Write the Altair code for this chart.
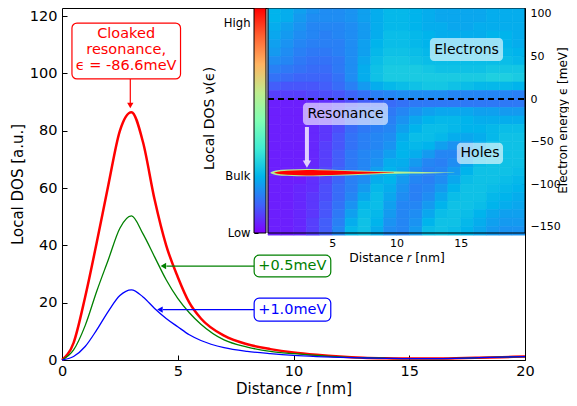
import altair as alt
import pandas as pd

FONT = "DejaVu Sans"

# ---------------- main panel data ----------------
r_vals = [0, 0.5, 1, 1.5, 2, 2.5, 3, 3.5, 4, 4.5, 5, 5.5, 6, 7, 8, 9, 10,
          11, 12, 13, 14, 15, 16, 17, 18, 19, 20]
dos_red = [0, 6, 22, 41, 61, 80, 86.5, 76, 56, 40, 29, 20, 14.5, 8.5, 5.5,
           3.8, 2.6, 1.8, 1.2, 0.8, 0.6, 0.5, 0.5, 0.6, 0.8, 1.0, 1.2]
dos_green = [0, 3.5, 12, 24, 35, 46, 50.3, 44, 36, 28, 21.5, 16.5, 12.5, 7,
             4.5, 3.0, 2.2, 1.6, 1.1, 0.8, 0.6, 0.5, 0.5, 0.6, 0.8, 1.0, 1.2]
dos_blue = [0, 1.2, 4.7, 10.5, 17, 22.5, 24.5, 22, 18, 14.5, 11.6, 8.8, 6.8,
            4.3, 3.0, 2.2, 1.6, 1.2, 0.9, 0.7, 0.6, 0.5, 0.5, 0.6, 0.8, 1.0, 1.2]

# annotation boxes in the main panel (data units)
main_box_labels = ["cloaked", "+0.5meV", "+1.0meV"]
main_box_x0 = [0.43, 8.30, 8.30]
main_box_x1 = [5.12, 11.61, 11.61]
main_box_y0 = [98.1, 29.0, 13.6]
main_box_y1 = [117.6, 36.6, 21.6]
main_box_colors = ["#ff0000", "#008000", "#0000ff"]

cloak_lines = ["Cloaked", "resonance,", "\u03f5 = -86.6meV"]
cloak_line_y = [113.8, 108.2, 102.6]
shift_texts = ["+0.5meV", "+1.0meV"]
shift_text_y = [32.8, 17.6]
shift_colors = ["#008000", "#0000ff"]
shift_tip_r = [4.21, 4.06]

# ---------------- inset data ----------------
e_centers = [105, 95, 85, 75, 65, 55, 45, 35, 25, 15, 5,
             -5, -15, -25, -35, -45, -55, -65, -75, -85, -95, -105,
             -115, -125, -135, -145, -155]
# local DOS, colour-map level (0 = Low, 100 = High), columns r = 0..20 nm
ldos_grid = [
    [25, 24, 22, 20, 19, 19, 20, 22, 24, 26, 26, 25, 24, 23, 23, 23, 23, 24, 24, 24],
    [25, 24, 21, 19, 19, 19, 20, 22, 24, 26, 26, 25, 24, 23, 23, 23, 23, 24, 24, 24],
    [24, 22, 20, 18, 18, 18, 19, 21, 24, 26, 26, 25, 24, 24, 23, 23, 24, 24, 24, 24],
    [23, 21, 19, 18, 17, 18, 19, 21, 24, 27, 27, 26, 25, 24, 24, 24, 24, 25, 25, 24],
    [22, 20, 18, 17, 17, 17, 19, 22, 25, 27, 27, 26, 25, 25, 25, 25, 25, 25, 25, 24],
    [21, 19, 17, 16, 16, 17, 19, 22, 26, 28, 28, 27, 26, 26, 26, 26, 26, 26, 26, 25],
    [19, 18, 16, 15, 15, 16, 19, 23, 27, 29, 29, 28, 27, 27, 27, 27, 27, 27, 27, 26],
    [17, 16, 15, 14, 14, 16, 19, 24, 28, 30, 30, 30, 29, 28, 28, 28, 28, 29, 29, 29],
    [15, 14, 13, 13, 13, 15, 19, 24, 28, 30, 30, 30, 30, 30, 30, 30, 30, 31, 31, 30],
    [12, 11, 11, 11, 12, 14, 17, 21, 24, 26, 27, 28, 29, 29, 28, 27, 26, 26, 26, 25],
    [8, 8, 8, 9, 10, 11, 13, 15, 17, 18, 19, 19, 19, 19, 18, 18, 18, 18, 18, 17],
    [4, 4, 4, 5, 6, 8, 10, 12, 13, 14, 15, 16, 16, 16, 16, 16, 16, 16, 16, 16],
    [4, 4, 4, 5, 6, 9, 12, 14, 15, 16, 18, 20, 22, 23, 23, 23, 22, 22, 21, 21],
    [4, 4, 4, 5, 6, 9, 13, 15, 16, 17, 20, 23, 25, 26, 26, 25, 24, 24, 24, 24],
    [4, 4, 4, 5, 7, 10, 14, 16, 17, 18, 22, 25, 27, 27, 26, 25, 25, 26, 27, 27],
    [4, 4, 4, 5, 7, 11, 15, 17, 18, 19, 24, 27, 27, 26, 24, 23, 24, 26, 28, 28],
    [4, 4, 4, 5, 8, 11, 15, 17, 18, 20, 25, 26, 25, 22, 20, 21, 24, 27, 28, 28],
    [4, 4, 4, 5, 8, 12, 16, 18, 19, 22, 25, 24, 21, 18, 18, 21, 25, 28, 28, 28],
    [4, 4, 4, 5, 8, 12, 16, 18, 20, 24, 24, 21, 18, 17, 19, 23, 27, 28, 28, 28],
    [4, 4, 4, 6, 9, 13, 16, 18, 22, 25, 23, 19, 17, 18, 21, 25, 28, 28, 28, 27],
    [4, 4, 4, 6, 9, 13, 17, 19, 24, 25, 21, 18, 17, 19, 23, 27, 28, 28, 27, 26],
    [4, 4, 5, 6, 10, 14, 17, 21, 26, 24, 20, 17, 18, 21, 25, 28, 28, 27, 26, 25],
    [4, 4, 5, 7, 10, 14, 18, 23, 27, 23, 19, 17, 19, 23, 27, 28, 28, 26, 25, 24],
    [4, 4, 5, 7, 11, 15, 20, 26, 27, 22, 18, 18, 21, 25, 28, 28, 27, 25, 24, 23],
    [4, 4, 5, 7, 11, 16, 22, 27, 26, 21, 18, 19, 23, 27, 28, 27, 25, 23, 22, 22],
    [4, 4, 5, 8, 12, 17, 24, 28, 25, 20, 18, 20, 25, 28, 28, 26, 24, 22, 21, 21],
    [4, 4, 5, 8, 12, 18, 26, 28, 24, 19, 18, 21, 27, 28, 27, 25, 23, 21, 20, 20],
]

# resonance streak at the cloaked energy
res_energy = -86.6
halo_r = [0.2, 0.6, 1.5, 3, 5, 7, 9, 11, 13, 14.5]
halo_half = [0.6, 2.6, 3.7, 4.3, 3.6, 2.6, 1.6, 1.0, 0.6, 0.2]
core_r = [0.5, 1, 2, 3, 4, 6, 8, 9, 9.8]
core_half = [0.3, 1.7, 2.7, 3.2, 2.9, 2.0, 1.0, 0.5, 0.1]

inset_labels = ["Electrons", "Holes", "Resonance"]
inset_label_r = [15.45, 16.5, 6.03]
inset_label_e = [58.2, -63.8, -17.4]
inset_box_r0 = [12.6, 14.7, 2.72]
inset_box_r1 = [18.29, 18.29, 9.34]
inset_box_e0 = [44.7, -76.4, -30.5]
inset_box_e1 = [71.7, -51.3, -4.3]

rainbow = ["#8000ff", "#4062fa", "#00b4ec", "#40ecd4", "#80ffb4",
           "#bfec8e", "#ffb462", "#ff6232", "#ff0000"]
rainbow_offsets = [0, 0.125, 0.25, 0.375, 0.5, 0.625, 0.75, 0.875, 1.0]
cbar_ticks = [0, 0.249, 0.929]

# ---------------- geometry (pixels of the plot area) ----------------
W, H = 463, 352

# ---------------- tables ----------------
curves = pd.DataFrame({"r": r_vals, "red": dos_red, "green": dos_green, "blue": dos_blue})

heat_rows = []
for e, vals in zip(e_centers, ldos_grid):
    for i, v in enumerate(vals):
        heat_rows.append({"r0": i, "r1": i + 1, "e0": e - 5, "e1": e + 5, "v": v})
heat = pd.DataFrame(heat_rows)

halo = pd.DataFrame({"r": halo_r,
                     "lo": [res_energy - h for h in halo_half],
                     "hi": [res_energy + h for h in halo_half]})
core = pd.DataFrame({"r": core_r,
                     "lo": [res_energy - h for h in core_half],
                     "hi": [res_energy + h for h in core_half]})

# ---------------- scales ----------------
sx_main = alt.Scale(domain=[0, 20], range=[0, W], nice=False, zero=False)
sy_main = alt.Scale(domain=[0, 122.86], range=[H, 0], nice=False, zero=False)
sx_in = alt.Scale(domain=[0, 20], range=[206, 463], nice=False, zero=False)
sy_in = alt.Scale(domain=[-157.5, 107], range=[225, 0], nice=False, zero=False)
sx_cb = alt.Scale(domain=[0, 1], range=[192, 204], nice=False, zero=False)
sy_cb = alt.Scale(domain=[0, 1], range=[225, 0], nice=False, zero=False)
col_scale = alt.Scale(domain=[0, 100], range=rainbow, interpolate="rgb")

# ---------------- inset layers ----------------
heat_layer = alt.Chart(heat).mark_rect(clip=True, strokeWidth=0.6).encode(
    x=alt.X("r0:Q", scale=sx_in, axis=alt.Axis(
        orient="bottom", offset=-(H - 225), values=[5, 10, 15], format="d",
        tickSize=0, domain=False, labelFontSize=11, labelPadding=4, labelFlush=False,
        title="Distance \U0001D45F [nm]", titleFontSize=12.4, titlePadding=3)),
    x2="r1:Q",
    y=alt.Y("e0:Q", scale=sy_in, axis=alt.Axis(
        orient="right", values=[-150, -100, -50, 0, 50, 100], format="d",
        tickSize=0, domain=False, labelFontSize=11, labelPadding=5,
        title="Electron energy \u03f5 [meV]", titleFontSize=12, titleX=37, titleY=112,
        titleAngle=270, titleAlign="center", titleBaseline="middle")),
    y2="e1:Q",
    color=alt.Color("v:Q", scale=col_scale, legend=None),
    stroke=alt.Stroke("v:Q", scale=col_scale, legend=None),
)

halo_layer = alt.Chart(halo).mark_area(color="#b8f090", interpolate="monotone").encode(
    x=alt.X("r:Q", scale=sx_in, axis=None),
    y=alt.Y("lo:Q", scale=sy_in, axis=None),
    y2="hi:Q",
)
core_layer = alt.Chart(core).mark_area(color="#ff0000", interpolate="monotone").encode(
    x=alt.X("r:Q", scale=sx_in, axis=None),
    y=alt.Y("lo:Q", scale=sy_in, axis=None),
    y2="hi:Q",
)

zero_line = alt.Chart(pd.DataFrame({"r0": [0], "r1": [20], "e": [0]})).mark_rule(
    color="black", strokeWidth=2, strokeDash=[6, 4]).encode(
    x=alt.X("r0:Q", scale=sx_in, axis=None),
    x2="r1:Q",
    y=alt.Y("e:Q", scale=sy_in, axis=None),
)

inset_frame = alt.Chart(pd.DataFrame({"r0": [0], "r1": [20], "e0": [-157.5], "e1": [107]})).mark_rect(
    fill=None, fillOpacity=0, stroke="black", strokeWidth=1).encode(
    x=alt.X("r0:Q", scale=sx_in, axis=alt.Axis(
        orient="top", offset=-225, values=[5, 10, 15], labels=False, domain=False,
        tickSize=4, title=None)),
    x2="r1:Q",
    y=alt.Y("e0:Q", scale=sy_in, axis=alt.Axis(
        orient="left", offset=-W, values=[-150, -100, -50, 0, 50, 100], labels=False,
        domain=False, tickSize=4, title=None)),
    y2="e1:Q",
)

inset_box_df = pd.DataFrame({"label": inset_labels, "r": inset_label_r, "e": inset_label_e,
                             "r0": inset_box_r0, "r1": inset_box_r1,
                             "e0": inset_box_e0, "e1": inset_box_e1})
inset_boxes = alt.Chart(inset_box_df).mark_rect(
    fill="white", fillOpacity=0.6, cornerRadius=4).encode(
    x=alt.X("r0:Q", scale=sx_in, axis=None), x2="r1:Q",
    y=alt.Y("e0:Q", scale=sy_in, axis=None), y2="e1:Q",
)
inset_texts = alt.Chart(inset_box_df).mark_text(
    font=FONT, fontSize=14, color="black", baseline="middle", align="center").encode(
    x=alt.X("r:Q", scale=sx_in, axis=None),
    y=alt.Y("e:Q", scale=sy_in, axis=None),
    text="label:N",
)
res_arrow_shaft = alt.Chart(pd.DataFrame({"r": [3.03], "e0": [-32.9], "e1": [-73.0]})).mark_rule(
    color="#f4ecff", opacity=0.85, strokeWidth=4).encode(
    x=alt.X("r:Q", scale=sx_in, axis=None),
    y=alt.Y("e0:Q", scale=sy_in, axis=None), y2="e1:Q",
)
res_arrow_head = alt.Chart(pd.DataFrame({"r": [3.03], "e": [-76.4]})).mark_point(
    shape="triangle-down", filled=True, size=70, color="#f4ecff", opacity=0.85).encode(
    x=alt.X("r:Q", scale=sx_in, axis=None),
    y=alt.Y("e:Q", scale=sy_in, axis=None),
)

# ---------------- colour bar ----------------
cbar_grad = alt.LinearGradient(
    gradient="linear",
    stops=[alt.GradientStop(color=c, offset=o) for c, o in zip(rainbow, rainbow_offsets)],
    x1=0, x2=0, y1=1, y2=0,
)
cbar_df = pd.DataFrame({"x0": [0], "x1": [1], "y0": [0], "y1": [1]})
cbar = alt.Chart(cbar_df).mark_rect(color=cbar_grad, stroke="black", strokeWidth=1).encode(
    x=alt.X("x0:Q", scale=sx_cb, axis=None), x2="x1:Q",
    y=alt.Y("y0:Q", scale=sy_cb, axis=alt.Axis(
        orient="left", offset=-192, values=cbar_ticks, tickSize=0, domain=False,
        labelExpr="datum.value < 0.1 ? 'Low' : (datum.value < 0.5 ? 'Bulk' : 'High')",
        labelFontSize=11.6, labelPadding=4,
        title="Local DOS \u03bd(\u03f5)", titleFontSize=14, titleX=-45, titleY=110,
        titleAngle=270, titleAlign="center", titleBaseline="middle")),
    y2="y1:Q",
)
cbar_ticks_layer = alt.Chart(cbar_df).mark_rect(opacity=0).encode(
    x=alt.X("x0:Q", scale=sx_cb, axis=None), x2="x1:Q",
    y=alt.Y("y0:Q", scale=sy_cb, axis=alt.Axis(
        orient="right", offset=192 - W, values=cbar_ticks, tickSize=4, labels=False,
        domain=False, title=None)),
    y2="y1:Q",
)

# ---------------- main curves ----------------
main_x_axis = alt.Axis(orient="bottom", values=[0, 5, 10, 15, 20], format="d", tickSize=0,
                       domain=False, labelFontSize=14.5, labelPadding=4, labelFlush=False,
                       title="Distance \U0001D45F [nm]", titleFontSize=15, titlePadding=4)
main_y_axis = alt.Axis(orient="left", values=[0, 20, 40, 60, 80, 100, 120], format="d",
                       tickSize=0, domain=False, labelFontSize=14.5, labelPadding=5,
                       title="Local DOS [a.u.]", titleFontSize=15, titlePadding=4)

red_line = alt.Chart(curves).mark_line(color="#ff0000", strokeWidth=2.5, interpolate="monotone").encode(
    x=alt.X("r:Q", scale=sx_main, axis=main_x_axis),
    y=alt.Y("red:Q", scale=sy_main, axis=main_y_axis),
)
green_line = alt.Chart(curves).mark_line(color="#008000", strokeWidth=1.3, interpolate="monotone").encode(
    x=alt.X("r:Q", scale=sx_main, axis=None),
    y=alt.Y("green:Q", scale=sy_main, axis=None),
)
blue_line = alt.Chart(curves).mark_line(color="#0000ff", strokeWidth=1.3, interpolate="monotone").encode(
    x=alt.X("r:Q", scale=sx_main, axis=alt.Axis(
        orient="top", offset=-H, values=[0, 5, 10, 15, 20], labels=False, domain=False,
        tickSize=5, title=None)),
    y=alt.Y("blue:Q", scale=sy_main, axis=alt.Axis(
        orient="right", offset=-W, values=[0, 20, 40, 60, 80, 100, 120], labels=False,
        domain=False, tickSize=5, title=None)),
)

# annotation boxes
box_df = pd.DataFrame({"label": main_box_labels, "x0": main_box_x0, "x1": main_box_x1,
                       "y0": main_box_y0, "y1": main_box_y1, "c": main_box_colors})
main_boxes = alt.Chart(box_df).mark_rect(fill="white", cornerRadius=5, strokeWidth=1.2).encode(
    x=alt.X("x0:Q", scale=sx_main, axis=None), x2="x1:Q",
    y=alt.Y("y0:Q", scale=sy_main, axis=None), y2="y1:Q",
    stroke=alt.Stroke("c:N", scale=None, legend=None),
)
cloak_text = alt.Chart(pd.DataFrame({"t": cloak_lines, "y": cloak_line_y, "x": [2.77] * 3})).mark_text(
    font=FONT, fontSize=14.5, color="#ff0000", baseline="middle", align="center").encode(
    x=alt.X("x:Q", scale=sx_main, axis=None),
    y=alt.Y("y:Q", scale=sy_main, axis=None),
    text="t:N",
)
shift_df = pd.DataFrame({"t": shift_texts, "y": shift_text_y, "c": shift_colors,
                         "x": [9.95, 9.95], "tip": shift_tip_r, "start": [8.30, 8.30]})
shift_text = alt.Chart(shift_df).mark_text(
    font=FONT, fontSize=14.5, baseline="middle", align="center").encode(
    x=alt.X("x:Q", scale=sx_main, axis=None),
    y=alt.Y("y:Q", scale=sy_main, axis=None),
    text="t:N",
    color=alt.Color("c:N", scale=None, legend=None),
)
shift_shaft = alt.Chart(shift_df).transform_calculate(tail="datum.tip + 0.3").mark_rule(strokeWidth=1.2).encode(
    x=alt.X("tail:Q", scale=sx_main, axis=None), x2="start:Q",
    y=alt.Y("y:Q", scale=sy_main, axis=None),
    color=alt.Color("c:N", scale=None, legend=None),
)
shift_head = alt.Chart(shift_df).transform_calculate(hc="datum.tip + 0.17").mark_point(
    shape="triangle-left", filled=True, size=40, opacity=1).encode(
    x=alt.X("hc:Q", scale=sx_main, axis=None),
    y=alt.Y("y:Q", scale=sy_main, axis=None),
    color=alt.Color("c:N", scale=None, legend=None),
)
cloak_shaft = alt.Chart(pd.DataFrame({"x": [2.95], "y0": [98.1], "y1": [89.5]})).mark_rule(
    color="#ff0000", strokeWidth=1.2).encode(
    x=alt.X("x:Q", scale=sx_main, axis=None),
    y=alt.Y("y0:Q", scale=sy_main, axis=None), y2="y1:Q",
)
cloak_head = alt.Chart(pd.DataFrame({"x": [2.95], "y": [88.8]})).mark_point(
    shape="triangle-down", filled=True, size=40, color="#ff0000", opacity=1).encode(
    x=alt.X("x:Q", scale=sx_main, axis=None),
    y=alt.Y("y:Q", scale=sy_main, axis=None),
)

chart = alt.layer(
    heat_layer, halo_layer, core_layer, zero_line, inset_frame,
    inset_boxes, inset_texts, res_arrow_shaft, res_arrow_head,
    cbar, cbar_ticks_layer,
    red_line, green_line, blue_line,
    main_boxes, cloak_text, shift_text, shift_shaft, shift_head, cloak_shaft, cloak_head,
).resolve_scale(
    x="independent", y="independent", color="independent", stroke="independent"
).properties(
    width=W, height=H,
    autosize=alt.AutoSizeParams(type="none"),
    padding={"left": 54, "top": 0, "right": 44, "bottom": 38},
).configure(
    font=FONT,
).configure_view(
    stroke="black", strokeWidth=1,
).configure_axis(
    labelFont=FONT, titleFont=FONT, labelColor="black", titleColor="black",
    titleFontWeight="normal", grid=False, tickColor="black", domainColor="black",
)

chart.save("out.html", embed_options={"renderer": "svg", "actions": False})
